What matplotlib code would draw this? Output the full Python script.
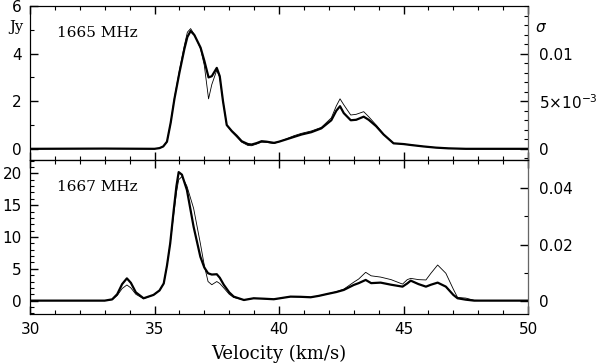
import matplotlib
matplotlib.use("Agg")
import matplotlib.pyplot as plt
from matplotlib.ticker import MultipleLocator, FixedLocator, FixedFormatter

# 1665 MHz panel (velocity in km/s, flux in Jy)
v_1665 = [30, 33, 35.0, 35.2, 35.35, 35.5, 35.65, 35.8, 36.0, 36.2,
          36.32, 36.45, 36.6, 36.85, 37.0, 37.17, 37.3, 37.5, 37.62, 37.75,
          37.9, 38.1, 38.3, 38.5, 38.75, 38.9, 39.1, 39.3, 39.5, 39.8,
          40.0, 40.3, 40.6, 40.9, 41.3, 41.7, 42.1, 42.3, 42.45, 42.6,
          42.88, 43.1, 43.4, 43.6, 43.9, 44.2, 44.6, 45.0, 45.3, 45.8,
          46.3, 46.8, 47.5, 50]
thick_1665 = [0, 0.01, 0.0, 0.03, 0.1, 0.3, 1.1, 2.1, 3.2, 4.2,
              4.7, 4.95, 4.78, 4.25, 3.7, 3.0, 3.05, 3.4, 3.05, 2.0,
              1.0, 0.75, 0.55, 0.32, 0.2, 0.18, 0.24, 0.32, 0.3, 0.25,
              0.3, 0.4, 0.5, 0.6, 0.7, 0.86, 1.2, 1.6, 1.79, 1.5,
              1.2, 1.22, 1.35, 1.22, 0.95, 0.6, 0.23, 0.2, 0.16, 0.1,
              0.05, 0.02, 0.0, 0.0]
thin_1665 = [0, 0.01, 0.0, 0.03, 0.1, 0.3, 1.1, 2.15, 3.3, 4.35,
             4.9, 5.05, 4.8, 4.2, 3.5, 2.1, 2.7, 3.3, 3.0, 2.0,
             1.0, 0.72, 0.5, 0.28, 0.14, 0.13, 0.2, 0.28, 0.27, 0.22,
             0.3, 0.42, 0.55, 0.65, 0.75, 0.9, 1.3, 1.8, 2.1, 1.85,
             1.42, 1.45, 1.56, 1.35, 1.0, 0.62, 0.23, 0.2, 0.16, 0.1,
             0.05, 0.02, 0.0, 0.0]

# 1667 MHz panel
v_1667 = [30, 33.0, 33.3, 33.5, 33.7, 33.89, 34.05, 34.25, 34.56, 34.96,
          35.2, 35.37, 35.5, 35.63, 35.77, 35.88, 35.97, 36.1, 36.3, 36.57,
          36.84, 37.0, 37.15, 37.3, 37.5, 37.62, 37.78, 38.0, 38.18, 38.59,
          38.98, 39.4, 39.79, 40.46, 40.87, 41.27, 41.6, 41.94, 42.3, 42.6,
          43.0, 43.2, 43.48, 43.7, 44.08, 44.5, 44.96, 45.15, 45.29, 45.6,
          45.9, 46.1, 46.37, 46.7, 47.0, 47.17, 47.5, 47.84, 48.5, 50]
thick_1667 = [0, 0, 0.2, 1.0, 2.6, 3.5, 2.8, 1.3, 0.37, 0.9,
              1.6, 2.7, 5.5, 9.0, 14.2, 18.0, 20.2, 19.8, 17.4, 11.6,
              6.9, 5.2, 4.3, 4.1, 4.15, 3.6, 2.5, 1.3, 0.63, 0.1,
              0.37, 0.3, 0.22, 0.63, 0.6, 0.53, 0.75, 1.05, 1.35, 1.68,
              2.46, 2.75, 3.25, 2.75, 2.83, 2.5, 2.2, 2.7, 3.14, 2.6,
              2.2, 2.5, 2.83, 2.2, 0.9, 0.37, 0.15, 0.0, 0.0, 0.0]
thin_1667 = [0, 0, 0.15, 0.8, 1.9, 2.46, 2.0, 1.0, 0.3, 0.9,
             1.6, 2.7, 5.5, 9.0, 13.5, 17.0, 19.0, 19.5, 18.0, 14.5,
             9.0, 5.5, 3.0, 2.5, 3.0, 2.7, 2.0, 1.0, 0.5, 0.1,
             0.37, 0.3, 0.22, 0.63, 0.6, 0.53, 0.75, 1.05, 1.4, 1.8,
             2.9, 3.4, 4.45, 3.9, 3.7, 3.3, 2.6, 3.3, 3.5, 3.3,
             3.25, 4.3, 5.6, 4.3, 1.8, 0.5, 0.4, 0.05, 0.0, 0.0]

# sigma scale factor (Jy per unit sigma) for each panel
scale_1665 = 400.0
scale_1667 = 441.0

tick_family = 'DejaVu Sans'
tick_size = 11
serif = 'DejaVu Serif'

fig = plt.figure(figsize=(5.98, 3.63), dpi=100)
ax1 = fig.add_axes([0.0502, 0.5592, 0.8328, 0.4243])
ax2 = fig.add_axes([0.0502, 0.135, 0.8328, 0.4242], sharex=ax1)

ax1.plot(v_1665, thin_1665, color='black', lw=0.6)
ax1.plot(v_1665, thick_1665, color='black', lw=1.6)
ax2.plot(v_1667, thin_1667, color='black', lw=0.6)
ax2.plot(v_1667, thick_1667, color='black', lw=1.6)

ax1.set_xlim(30, 50)
ax1.set_ylim(-0.47, 6)
ax2.set_ylim(-2.1, 22.1)

ax1.yaxis.set_major_locator(MultipleLocator(2))
ax1.yaxis.set_minor_locator(MultipleLocator(1))
ax2.yaxis.set_major_locator(MultipleLocator(5))
ax2.yaxis.set_minor_locator(MultipleLocator(1))
ax2.xaxis.set_major_locator(MultipleLocator(5))
ax2.xaxis.set_minor_locator(MultipleLocator(1))

# right-hand sigma axes
r1 = ax1.twinx()
r1.set_ylim(-0.47 / scale_1665, 6 / scale_1665)
r1.yaxis.set_major_locator(FixedLocator([0, 0.005, 0.01]))
r1.yaxis.set_major_formatter(FixedFormatter(['0', r'$5{\times}10^{-3}$', '0.01']))
r1.yaxis.set_minor_locator(MultipleLocator(0.001))

r2 = ax2.twinx()
r2.set_ylim(-2.1 / scale_1667, 22.1 / scale_1667)
r2.yaxis.set_major_locator(FixedLocator([0, 0.02, 0.04]))
r2.yaxis.set_major_formatter(FixedFormatter(['0', '0.02', '0.04']))
r2.yaxis.set_minor_locator(MultipleLocator(0.01))

for ax in (ax1, ax2):
    ax.tick_params(which='both', direction='in', top=True, right=False)
    ax.tick_params(which='major', length=6, width=1, pad=6)
    ax.tick_params(which='minor', length=3, width=0.8)
    for lab in ax.get_xticklabels() + ax.get_yticklabels():
        lab.set_fontfamily(tick_family)
        lab.set_fontsize(tick_size)
for r in (r1, r2):
    r.tick_params(which='both', direction='in', left=False, right=True)
    r.tick_params(which='major', length=6, width=1, pad=8)
    r.tick_params(which='minor', length=3, width=0.8)
    for lab in r.get_yticklabels():
        lab.set_fontfamily(tick_family)
        lab.set_fontsize(tick_size)
    r.spines['right'].set_color('0.4')

ax1.tick_params(axis='x', labelbottom=False)

ax2.set_xlabel('Velocity (km/s)', family=serif, fontsize=13, labelpad=5)

ax1.text(0.054, 0.80, '1665 MHz', transform=ax1.transAxes, family=serif, fontsize=11)
ax2.text(0.054, 0.80, '1667 MHz', transform=ax2.transAxes, family=serif, fontsize=11)

fig.text(0.028, 1 - 27 / 363, 'Jy', family=serif, fontsize=10.5, ha='center', va='center')
fig.text(0.905, 1 - 27 / 363, r'$\sigma$', fontsize=11, ha='center', va='center')

fig.savefig('out.png', dpi=100)
